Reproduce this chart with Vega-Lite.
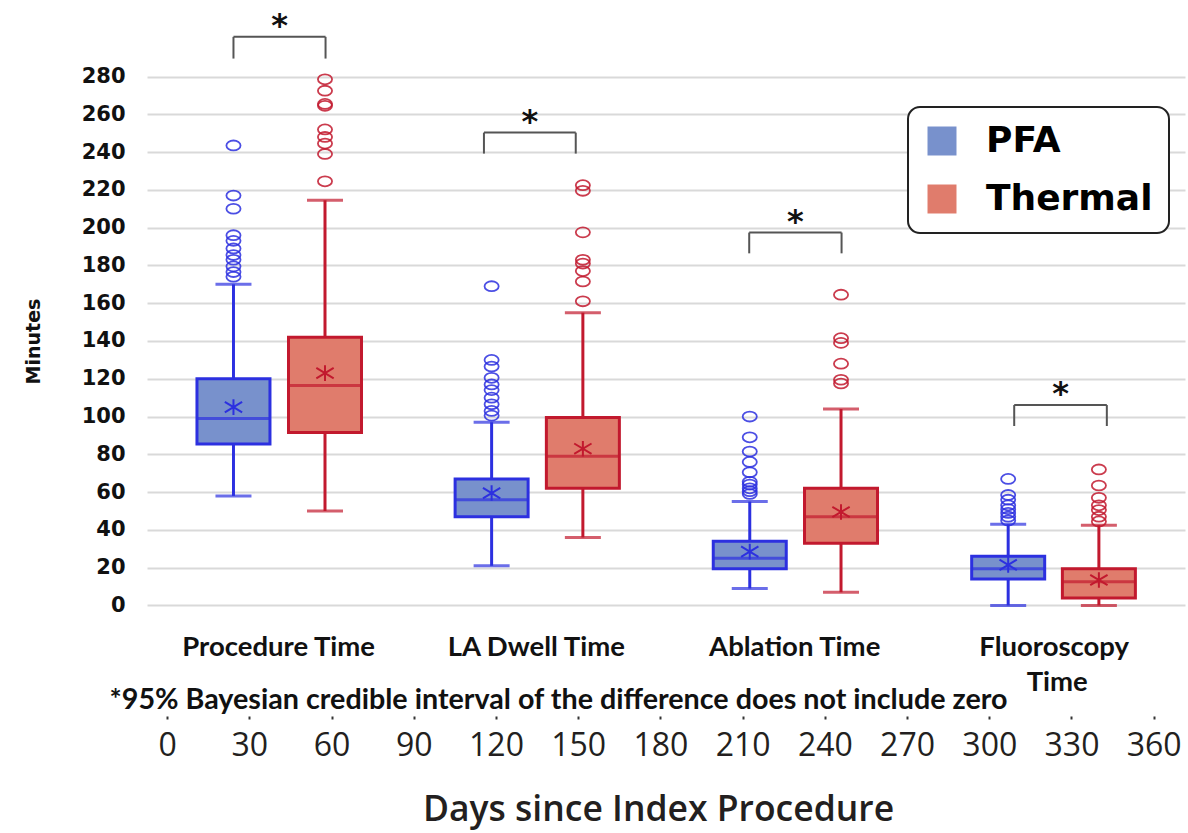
{
  "$schema": "https://vega.github.io/schema/vega-lite/v6.json",
  "width": 1038,
  "height": 716,
  "autosize": {"type": "none"},
  "padding": {"left": 147, "top": 0, "right": 3, "bottom": 117},
  "background": "white",
  "config": {"view": {"stroke": null}, "legend": {"strokeWidth": 2}},
  "datasets": {
    "boxes": [
      {"cat": "Procedure Time", "group": "PFA", "day": 24.2, "lo": 58, "q1": 85.5, "med": 99, "q3": 120, "hi": 170, "mean": 105},
      {"cat": "Procedure Time", "group": "Thermal", "day": 57.6, "lo": 50, "q1": 91.5, "med": 116.5, "q3": 142, "hi": 214.5, "mean": 123},
      {"cat": "LA Dwell Time", "group": "PFA", "day": 118.4, "lo": 21, "q1": 47, "med": 56, "q3": 67, "hi": 97, "mean": 59.5},
      {"cat": "LA Dwell Time", "group": "Thermal", "day": 151.7, "lo": 36, "q1": 62, "med": 79, "q3": 99.5, "hi": 155, "mean": 83},
      {"cat": "Ablation Time", "group": "PFA", "day": 212.6, "lo": 9, "q1": 19.5, "med": 25, "q3": 34, "hi": 55, "mean": 28.5},
      {"cat": "Ablation Time", "group": "Thermal", "day": 245.9, "lo": 7, "q1": 33, "med": 47, "q3": 62, "hi": 104, "mean": 49.5},
      {"cat": "Fluoroscopy Time", "group": "PFA", "day": 306.9, "lo": 0, "q1": 14, "med": 19.5, "q3": 26, "hi": 43, "mean": 21.5},
      {"cat": "Fluoroscopy Time", "group": "Thermal", "day": 340.0, "lo": 0, "q1": 4, "med": 12.5, "q3": 19.5, "hi": 42.5, "mean": 13.5}
    ],
    "outliers": [
      {"group": "PFA", "day": 24.2, "value": 243.5},
      {"group": "PFA", "day": 24.2, "value": 217},
      {"group": "PFA", "day": 24.2, "value": 210},
      {"group": "PFA", "day": 24.2, "value": 196},
      {"group": "PFA", "day": 24.2, "value": 193},
      {"group": "PFA", "day": 24.2, "value": 189},
      {"group": "PFA", "day": 24.2, "value": 185.5},
      {"group": "PFA", "day": 24.2, "value": 183},
      {"group": "PFA", "day": 24.2, "value": 179.5},
      {"group": "PFA", "day": 24.2, "value": 176.5},
      {"group": "PFA", "day": 24.2, "value": 174},
      {"group": "Thermal", "day": 57.6, "value": 278.5},
      {"group": "Thermal", "day": 57.6, "value": 272.5},
      {"group": "Thermal", "day": 57.6, "value": 265.5},
      {"group": "Thermal", "day": 57.6, "value": 264.5},
      {"group": "Thermal", "day": 57.6, "value": 252},
      {"group": "Thermal", "day": 57.6, "value": 248},
      {"group": "Thermal", "day": 57.6, "value": 244.5},
      {"group": "Thermal", "day": 57.6, "value": 239},
      {"group": "Thermal", "day": 57.6, "value": 224.5},
      {"group": "PFA", "day": 118.4, "value": 169},
      {"group": "PFA", "day": 118.4, "value": 130},
      {"group": "PFA", "day": 118.4, "value": 126.5},
      {"group": "PFA", "day": 118.4, "value": 120.5},
      {"group": "PFA", "day": 118.4, "value": 117},
      {"group": "PFA", "day": 118.4, "value": 114},
      {"group": "PFA", "day": 118.4, "value": 110},
      {"group": "PFA", "day": 118.4, "value": 106.5},
      {"group": "PFA", "day": 118.4, "value": 103},
      {"group": "PFA", "day": 118.4, "value": 100.5},
      {"group": "Thermal", "day": 151.7, "value": 222.5},
      {"group": "Thermal", "day": 151.7, "value": 219.5},
      {"group": "Thermal", "day": 151.7, "value": 197.5},
      {"group": "Thermal", "day": 151.7, "value": 183},
      {"group": "Thermal", "day": 151.7, "value": 181},
      {"group": "Thermal", "day": 151.7, "value": 177},
      {"group": "Thermal", "day": 151.7, "value": 171.5},
      {"group": "Thermal", "day": 151.7, "value": 161},
      {"group": "PFA", "day": 212.6, "value": 100},
      {"group": "PFA", "day": 212.6, "value": 89},
      {"group": "PFA", "day": 212.6, "value": 81.5},
      {"group": "PFA", "day": 212.6, "value": 76},
      {"group": "PFA", "day": 212.6, "value": 70.5},
      {"group": "PFA", "day": 212.6, "value": 65.5},
      {"group": "PFA", "day": 212.6, "value": 64},
      {"group": "PFA", "day": 212.6, "value": 62},
      {"group": "PFA", "day": 212.6, "value": 60.5},
      {"group": "PFA", "day": 212.6, "value": 59},
      {"group": "Thermal", "day": 245.9, "value": 164.5},
      {"group": "Thermal", "day": 245.9, "value": 141.5},
      {"group": "Thermal", "day": 245.9, "value": 139},
      {"group": "Thermal", "day": 245.9, "value": 128},
      {"group": "Thermal", "day": 245.9, "value": 119.5},
      {"group": "Thermal", "day": 245.9, "value": 117.5},
      {"group": "PFA", "day": 306.9, "value": 67},
      {"group": "PFA", "day": 306.9, "value": 58.5},
      {"group": "PFA", "day": 306.9, "value": 56},
      {"group": "PFA", "day": 306.9, "value": 53},
      {"group": "PFA", "day": 306.9, "value": 51},
      {"group": "PFA", "day": 306.9, "value": 49},
      {"group": "PFA", "day": 306.9, "value": 47},
      {"group": "PFA", "day": 306.9, "value": 45},
      {"group": "Thermal", "day": 340.0, "value": 72},
      {"group": "Thermal", "day": 340.0, "value": 63.5},
      {"group": "Thermal", "day": 340.0, "value": 57},
      {"group": "Thermal", "day": 340.0, "value": 53},
      {"group": "Thermal", "day": 340.0, "value": 50.5},
      {"group": "Thermal", "day": 340.0, "value": 47},
      {"group": "Thermal", "day": 340.0, "value": 44.5}
    ],
    "brackets": [
      {"day": 24.2, "day2": 57.8, "mid": 41.0, "top": 301, "bottom": 289.5},
      {"day": 115.6, "day2": 149.1, "mid": 132.35, "top": 250.3, "bottom": 239.2},
      {"day": 212.4, "day2": 246.1, "mid": 229.25, "top": 197.4, "bottom": 186.4},
      {"day": 309.1, "day2": 342.9, "mid": 326.0, "top": 106.1, "bottom": 95}
    ],
    "catlabels": [
      {"text": "Procedure Time", "day": 40.7, "y": -22.5},
      {"text": "LA Dwell Time", "day": 134.7, "y": -22.5},
      {"text": "Ablation Time", "day": 229.0, "y": -22.5},
      {"text": "Fluoroscopy", "day": 323.7, "y": -22.5},
      {"text": "Time", "day": 324.8, "y": -41}
    ],
    "notes": [
      {"text": "*95% Bayesian credible interval of the difference does not include zero", "day": -21.0, "y": -50}
    ]
  },
  "encoding": {
    "x": {
      "field": "day",
      "type": "quantitative",
      "scale": {"domain": [-5.53, 369.6], "nice": false, "zero": false},
      "axis": {
        "values": [0, 30, 60, 90, 120, 150, 180, 210, 240, 270, 300, 330, 360],
        "grid": false,
        "domain": false,
        "ticks": true,
        "tickSize": 3,
        "tickWidth": 2,
        "tickColor": "#333333",
        "labelFont": "Open Sans",
        "labelFontSize": 32,
        "labelColor": "#231f20",
        "labelPadding": 11,
        "labelFlush": false,
        "labelOverlap": false,
        "title": "Days since Index Procedure",
        "titleFont": "Open Sans",
        "titleFontSize": 35.5,
        "titleFontWeight": 600,
        "titleColor": "#231f20",
        "titleX": 511,
        "titleY": 104,
        "titleAlign": "center",
        "titleBaseline": "alphabetic"
      }
    }
  },
  "layer": [
    {
      "data": {"name": "boxes"},
      "mark": {"type": "rule", "strokeWidth": 3},
      "encoding": {
        "y": {"field": "lo", "type": "quantitative", "title": "Minutes", "scale": {"domain": [-58.5, 320.5], "nice": false, "zero": false},
          "axis": {"values": [0, 20, 40, 60, 80, 100, 120, 140, 160, 180, 200, 220, 240, 260, 280], "domain": false, "ticks": false, "grid": true, "gridColor": "#d9d9d9", "gridWidth": 2, "labelFont": "DejaVu Sans", "labelFontWeight": "bold", "labelFontSize": 21, "labelColor": "#111111", "labelPadding": 22, "titleFont": "DejaVu Sans", "titleFontWeight": "bold", "titleFontSize": 19, "titleColor": "#111111", "titleX": -114, "titleY": 341, "titleAngle": 270, "titleAlign": "center", "titleBaseline": "middle"}},
        "y2": {"field": "hi"},
        "stroke": {"field": "group", "type": "nominal", "scale": {"range": ["#2c30e0", "#c2192e"]}, "legend": null}
      }
    },
    {
      "data": {"name": "boxes"},
      "mark": {"type": "tick", "orient": "horizontal", "size": 36, "thickness": 3},
      "encoding": {
        "y": {"field": "lo", "type": "quantitative", "title": "Minutes", "scale": {"domain": [-58.5, 320.5], "nice": false, "zero": false},
          "axis": {"values": [0, 20, 40, 60, 80, 100, 120, 140, 160, 180, 200, 220, 240, 260, 280], "domain": false, "ticks": false, "grid": true, "gridColor": "#d9d9d9", "gridWidth": 2, "labelFont": "DejaVu Sans", "labelFontWeight": "bold", "labelFontSize": 21, "labelColor": "#111111", "labelPadding": 22, "titleFont": "DejaVu Sans", "titleFontWeight": "bold", "titleFontSize": 19, "titleColor": "#111111", "titleX": -114, "titleY": 341, "titleAngle": 270, "titleAlign": "center", "titleBaseline": "middle"}},
        "color": {"field": "group", "type": "nominal", "scale": {"range": ["#2c30e0", "#c2192e"]}, "legend": null}
      }
    },
    {
      "data": {"name": "boxes"},
      "mark": {"type": "tick", "orient": "horizontal", "size": 36, "thickness": 3},
      "encoding": {
        "y": {"field": "hi", "type": "quantitative", "title": "Minutes", "scale": {"domain": [-58.5, 320.5], "nice": false, "zero": false},
          "axis": {"values": [0, 20, 40, 60, 80, 100, 120, 140, 160, 180, 200, 220, 240, 260, 280], "domain": false, "ticks": false, "grid": true, "gridColor": "#d9d9d9", "gridWidth": 2, "labelFont": "DejaVu Sans", "labelFontWeight": "bold", "labelFontSize": 21, "labelColor": "#111111", "labelPadding": 22, "titleFont": "DejaVu Sans", "titleFontWeight": "bold", "titleFontSize": 19, "titleColor": "#111111", "titleX": -114, "titleY": 341, "titleAngle": 270, "titleAlign": "center", "titleBaseline": "middle"}},
        "color": {"field": "group", "type": "nominal", "scale": {"range": ["#2c30e0", "#c2192e"]}, "legend": null}
      }
    },
    {
      "data": {"name": "boxes"},
      "mark": {"type": "bar", "width": 73, "strokeWidth": 3, "opacity": 1},
      "encoding": {
        "y": {"field": "q1", "type": "quantitative", "title": "Minutes", "scale": {"domain": [-58.5, 320.5], "nice": false, "zero": false},
          "axis": {"values": [0, 20, 40, 60, 80, 100, 120, 140, 160, 180, 200, 220, 240, 260, 280], "domain": false, "ticks": false, "grid": true, "gridColor": "#d9d9d9", "gridWidth": 2, "labelFont": "DejaVu Sans", "labelFontWeight": "bold", "labelFontSize": 21, "labelColor": "#111111", "labelPadding": 22, "titleFont": "DejaVu Sans", "titleFontWeight": "bold", "titleFontSize": 19, "titleColor": "#111111", "titleX": -114, "titleY": 341, "titleAngle": 270, "titleAlign": "center", "titleBaseline": "middle"}},
        "y2": {"field": "q3"},
        "fill": {"field": "group", "type": "nominal", "scale": {"domain": ["PFA", "Thermal"], "range": ["#7891cc", "#e07c6c"]},
          "legend": {"orient": "none", "legendX": 761, "legendY": 107, "title": null, "symbolType": "square", "symbolSize": 841, "symbolStrokeWidth": 0, "symbolOpacity": 1, "labelFont": "DejaVu Sans", "labelFontWeight": "bold", "labelFontSize": 36, "labelColor": "#000000", "labelOffset": 26, "labelLimit": 0, "rowPadding": 22, "padding": 16, "fillColor": "white", "strokeColor": "#222222", "cornerRadius": 12}},
        "stroke": {"field": "group", "type": "nominal", "scale": {"range": ["#2c30e0", "#c2192e"]}, "legend": null}
      }
    },
    {
      "data": {"name": "boxes"},
      "mark": {"type": "tick", "orient": "horizontal", "size": 74, "thickness": 3},
      "encoding": {
        "y": {"field": "med", "type": "quantitative", "title": "Minutes", "scale": {"domain": [-58.5, 320.5], "nice": false, "zero": false},
          "axis": {"values": [0, 20, 40, 60, 80, 100, 120, 140, 160, 180, 200, 220, 240, 260, 280], "domain": false, "ticks": false, "grid": true, "gridColor": "#d9d9d9", "gridWidth": 2, "labelFont": "DejaVu Sans", "labelFontWeight": "bold", "labelFontSize": 21, "labelColor": "#111111", "labelPadding": 22, "titleFont": "DejaVu Sans", "titleFontWeight": "bold", "titleFontSize": 19, "titleColor": "#111111", "titleX": -114, "titleY": 341, "titleAngle": 270, "titleAlign": "center", "titleBaseline": "middle"}},
        "color": {"field": "group", "type": "nominal", "scale": {"range": ["#2c30e0", "#c2192e"]}, "legend": null}
      }
    },
    {
      "data": {"name": "boxes"},
      "mark": {"type": "point", "filled": false, "shape": "M-1,-0.6L1,0.6M-1,0.6L1,-0.6M0,-0.9L0,0.9", "size": 300, "strokeWidth": 2, "opacity": 1},
      "encoding": {
        "y": {"field": "mean", "type": "quantitative", "title": "Minutes", "scale": {"domain": [-58.5, 320.5], "nice": false, "zero": false},
          "axis": {"values": [0, 20, 40, 60, 80, 100, 120, 140, 160, 180, 200, 220, 240, 260, 280], "domain": false, "ticks": false, "grid": true, "gridColor": "#d9d9d9", "gridWidth": 2, "labelFont": "DejaVu Sans", "labelFontWeight": "bold", "labelFontSize": 21, "labelColor": "#111111", "labelPadding": 22, "titleFont": "DejaVu Sans", "titleFontWeight": "bold", "titleFontSize": 19, "titleColor": "#111111", "titleX": -114, "titleY": 341, "titleAngle": 270, "titleAlign": "center", "titleBaseline": "middle"}},
        "stroke": {"field": "group", "type": "nominal", "scale": {"range": ["#2c30e0", "#c2192e"]}, "legend": null}
      }
    },
    {
      "data": {"name": "outliers"},
      "mark": {"type": "point", "filled": false, "shape": "M-1,0A1,0.7,0,1,1,1,0A1,0.7,0,1,1,-1,0Z", "size": 200, "strokeWidth": 1.8, "opacity": 0.85},
      "encoding": {
        "y": {"field": "value", "type": "quantitative", "title": "Minutes", "scale": {"domain": [-58.5, 320.5], "nice": false, "zero": false},
          "axis": {"values": [0, 20, 40, 60, 80, 100, 120, 140, 160, 180, 200, 220, 240, 260, 280], "domain": false, "ticks": false, "grid": true, "gridColor": "#d9d9d9", "gridWidth": 2, "labelFont": "DejaVu Sans", "labelFontWeight": "bold", "labelFontSize": 21, "labelColor": "#111111", "labelPadding": 22, "titleFont": "DejaVu Sans", "titleFontWeight": "bold", "titleFontSize": 19, "titleColor": "#111111", "titleX": -114, "titleY": 341, "titleAngle": 270, "titleAlign": "center", "titleBaseline": "middle"}},
        "stroke": {"field": "group", "type": "nominal", "scale": {"range": ["#2c30e0", "#c2192e"]}, "legend": null}
      }
    },
    {
      "data": {"name": "brackets"},
      "mark": {"type": "rule", "strokeWidth": 2, "color": "#555555"},
      "encoding": {
        "x2": {"field": "day2"},
        "y": {"field": "top", "type": "quantitative", "title": "Minutes", "scale": {"domain": [-58.5, 320.5], "nice": false, "zero": false},
          "axis": {"values": [0, 20, 40, 60, 80, 100, 120, 140, 160, 180, 200, 220, 240, 260, 280], "domain": false, "ticks": false, "grid": true, "gridColor": "#d9d9d9", "gridWidth": 2, "labelFont": "DejaVu Sans", "labelFontWeight": "bold", "labelFontSize": 21, "labelColor": "#111111", "labelPadding": 22, "titleFont": "DejaVu Sans", "titleFontWeight": "bold", "titleFontSize": 19, "titleColor": "#111111", "titleX": -114, "titleY": 341, "titleAngle": 270, "titleAlign": "center", "titleBaseline": "middle"}}
      }
    },
    {
      "data": {"name": "brackets"},
      "mark": {"type": "rule", "strokeWidth": 2, "color": "#555555"},
      "encoding": {
        "y": {"field": "top", "type": "quantitative", "title": "Minutes", "scale": {"domain": [-58.5, 320.5], "nice": false, "zero": false},
          "axis": {"values": [0, 20, 40, 60, 80, 100, 120, 140, 160, 180, 200, 220, 240, 260, 280], "domain": false, "ticks": false, "grid": true, "gridColor": "#d9d9d9", "gridWidth": 2, "labelFont": "DejaVu Sans", "labelFontWeight": "bold", "labelFontSize": 21, "labelColor": "#111111", "labelPadding": 22, "titleFont": "DejaVu Sans", "titleFontWeight": "bold", "titleFontSize": 19, "titleColor": "#111111", "titleX": -114, "titleY": 341, "titleAngle": 270, "titleAlign": "center", "titleBaseline": "middle"}},
        "y2": {"field": "bottom"}
      }
    },
    {
      "data": {"name": "brackets"},
      "mark": {"type": "rule", "strokeWidth": 2, "color": "#555555"},
      "encoding": {
        "x": {"field": "day2", "type": "quantitative", "scale": {"domain": [-5.53, 369.6], "nice": false, "zero": false}},
        "y": {"field": "top", "type": "quantitative", "title": "Minutes", "scale": {"domain": [-58.5, 320.5], "nice": false, "zero": false},
          "axis": {"values": [0, 20, 40, 60, 80, 100, 120, 140, 160, 180, 200, 220, 240, 260, 280], "domain": false, "ticks": false, "grid": true, "gridColor": "#d9d9d9", "gridWidth": 2, "labelFont": "DejaVu Sans", "labelFontWeight": "bold", "labelFontSize": 21, "labelColor": "#111111", "labelPadding": 22, "titleFont": "DejaVu Sans", "titleFontWeight": "bold", "titleFontSize": 19, "titleColor": "#111111", "titleX": -114, "titleY": 341, "titleAngle": 270, "titleAlign": "center", "titleBaseline": "middle"}},
        "y2": {"field": "bottom"}
      }
    },
    {
      "data": {"name": "brackets"},
      "mark": {"type": "text", "text": "*", "font": "DejaVu Sans", "fontWeight": "bold", "fontSize": 32, "color": "#111111", "align": "center", "baseline": "alphabetic", "dy": -1},
      "encoding": {
        "x": {"field": "mid", "type": "quantitative", "scale": {"domain": [-5.53, 369.6], "nice": false, "zero": false}},
        "y": {"field": "top", "type": "quantitative", "title": "Minutes", "scale": {"domain": [-58.5, 320.5], "nice": false, "zero": false},
          "axis": {"values": [0, 20, 40, 60, 80, 100, 120, 140, 160, 180, 200, 220, 240, 260, 280], "domain": false, "ticks": false, "grid": true, "gridColor": "#d9d9d9", "gridWidth": 2, "labelFont": "DejaVu Sans", "labelFontWeight": "bold", "labelFontSize": 21, "labelColor": "#111111", "labelPadding": 22, "titleFont": "DejaVu Sans", "titleFontWeight": "bold", "titleFontSize": 19, "titleColor": "#111111", "titleX": -114, "titleY": 341, "titleAngle": 270, "titleAlign": "center", "titleBaseline": "middle"}}
      }
    },
    {
      "data": {"name": "catlabels"},
      "mark": {"type": "text", "font": "Lato", "fontWeight": "bold", "fontSize": 27.5, "color": "#111111", "align": "center", "baseline": "middle"},
      "encoding": {
        "text": {"field": "text"},
        "y": {"field": "y", "type": "quantitative", "title": "Minutes", "scale": {"domain": [-58.5, 320.5], "nice": false, "zero": false},
          "axis": {"values": [0, 20, 40, 60, 80, 100, 120, 140, 160, 180, 200, 220, 240, 260, 280], "domain": false, "ticks": false, "grid": true, "gridColor": "#d9d9d9", "gridWidth": 2, "labelFont": "DejaVu Sans", "labelFontWeight": "bold", "labelFontSize": 21, "labelColor": "#111111", "labelPadding": 22, "titleFont": "DejaVu Sans", "titleFontWeight": "bold", "titleFontSize": 19, "titleColor": "#111111", "titleX": -114, "titleY": 341, "titleAngle": 270, "titleAlign": "center", "titleBaseline": "middle"}}
      }
    },
    {
      "data": {"name": "notes"},
      "mark": {"type": "text", "font": "Lato", "fontWeight": "bold", "fontSize": 28.7, "color": "#111111", "align": "left", "baseline": "middle"},
      "encoding": {
        "text": {"field": "text"},
        "y": {"field": "y", "type": "quantitative", "title": "Minutes", "scale": {"domain": [-58.5, 320.5], "nice": false, "zero": false},
          "axis": {"values": [0, 20, 40, 60, 80, 100, 120, 140, 160, 180, 200, 220, 240, 260, 280], "domain": false, "ticks": false, "grid": true, "gridColor": "#d9d9d9", "gridWidth": 2, "labelFont": "DejaVu Sans", "labelFontWeight": "bold", "labelFontSize": 21, "labelColor": "#111111", "labelPadding": 22, "titleFont": "DejaVu Sans", "titleFontWeight": "bold", "titleFontSize": 19, "titleColor": "#111111", "titleX": -114, "titleY": 341, "titleAngle": 270, "titleAlign": "center", "titleBaseline": "middle"}}
      }
    }
  ]
}
